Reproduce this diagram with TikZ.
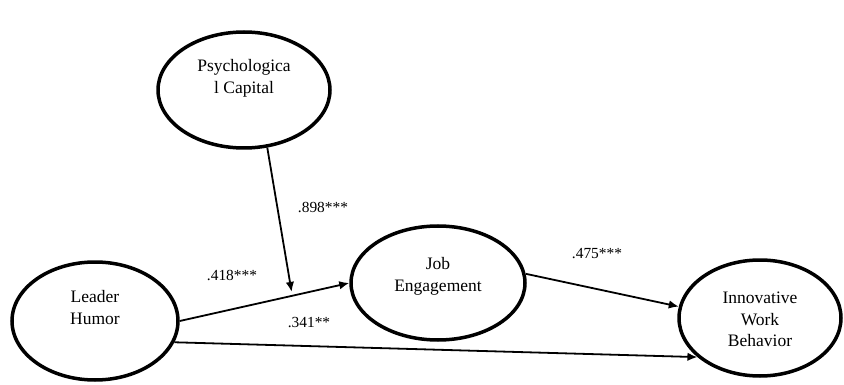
\documentclass[tikz,border=0pt]{standalone}
\usepackage{fontspec}
\setmainfont{Liberation Serif}
\usetikzlibrary{arrows.meta,shapes.geometric,calc}

\tikzset{
  construct/.style={draw, ellipse, line width=3.5pt, inner sep=0pt, align=center,
    font=\fontsize{17.5}{21.5}\selectfont},
  lift/.style={text height=#1, text depth=0pt},
  effect/.style={-{Latex[length=10pt,width=8.5pt]}, line width=1.8pt},
  coef/.style={font=\fontsize{15.4}{18}\selectfont}
}

\begin{document}
\begin{tikzpicture}[x=1pt, y=-1pt]
\useasboundingbox (0,0) rectangle (844,385);

% Constructs
\node[construct, lift=6.5pt, minimum width=172pt, minimum height=116pt] (pc) at (244,90) {Psychologica\\l Capital};
\node[construct, lift=6.5pt, minimum width=166pt, minimum height=118pt] (lh) at (95,321) {Leader\\Humor};
\node[construct, lift=16.5pt, minimum width=174pt, minimum height=114pt] (je) at (438,283) {Job\\Engagement};
\node[construct, lift=57pt, minimum width=162pt, minimum height=116pt] (iwb) at (760,318) {Innovative\\Work\\Behavior};

% Paths
\coordinate (mod) at ($(lh.east)!0.66!(je.west)+(0,-4)$);
\draw[effect] (lh.east) -- (je.west);
\draw[effect] (pc.-68) -- (mod);
\draw[effect] (je.6) -- (iwb.172);
\draw[effect] (lh.-15) -- (iwb.212);

% Coefficients
\node[coef] (b418) at (232,275) {.418***};
\node[coef] (b898) at (323,207) {.898***};
\node[coef] (b475) at (597,254) {.475***};
\node[coef] (b341) at (309,323) {.341**};
\end{tikzpicture}
\end{document}
